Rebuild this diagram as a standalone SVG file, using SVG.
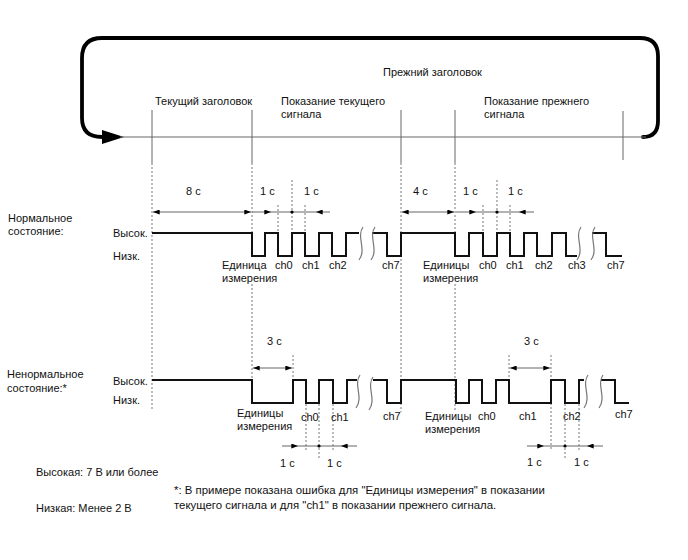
<svg xmlns="http://www.w3.org/2000/svg" xmlns:xlink="http://www.w3.org/1999/xlink" width="688" height="560" viewBox="0 0 688 560">
<style>
text{font-family:"Liberation Sans",Arial,sans-serif;font-size:11px;fill:#111}
.fn{font-size:11.4px}
.wave{fill:none;stroke:#111;stroke-width:2}
.brk{fill:none;stroke:#777;stroke-width:1.2}
.tick{stroke:#666;stroke-width:1;fill:none}
.dash{stroke:#777;stroke-width:1;stroke-dasharray:2 2;fill:none}
.dim{stroke:#666;stroke-width:1;fill:none}
.loop{fill:none;stroke:#000;stroke-width:3.8;stroke-linecap:round;stroke-linejoin:round}
</style>
<defs>
<marker id="ah" viewBox="0 0 8 6" refX="8" refY="3" markerWidth="7" markerHeight="5" markerUnits="userSpaceOnUse" orient="auto-start-reverse"><path d="M0,0 L8,3 L0,6 z" fill="#000"/></marker>
<path id="brk" d="M2,0 C-5,10 6,22 -2,33"/>
</defs>
<rect width="688" height="560" fill="#fff"/>

<g id="loop">
<path class="loop" d="M643,137 Q658,137 658,121 L658,56 Q658,38 640,38 L102,38 Q82,38 82,58 L82,118 Q82,137 102,137 L108,137"/>
<polygon points="102,130 124,137 102,144" fill="#000"/>
<line class="tick" x1="120" y1="137" x2="646" y2="137"/>
</g>

<g id="headers">
<text x="383" y="76">Прежний заголовок</text>
<text x="155" y="105">Текущий заголовок</text>
<text x="281" y="105">Показание текущего</text>
<text x="281" y="118">сигнала</text>
<text x="484" y="105">Показание прежнего</text>
<text x="484" y="118">сигнала</text>
<line class="tick" x1="152" y1="110" x2="152" y2="163"/>
<line class="tick" x1="252" y1="110" x2="252" y2="163"/>
<line class="tick" x1="401" y1="110" x2="401" y2="163"/>
<line class="tick" x1="455" y1="110" x2="455" y2="163"/>
<line class="tick" x1="623" y1="111" x2="623" y2="160"/>
</g>

<g id="guides">
<line class="dash" x1="152" y1="163" x2="152" y2="410"/>
<line class="dash" x1="252" y1="163" x2="252" y2="233"/>
<line class="dash" x1="252" y1="284" x2="252" y2="380"/>
<line class="dash" x1="401" y1="163" x2="401" y2="412"/>
<line class="dash" x1="455" y1="163" x2="455" y2="233"/>
<line class="dash" x1="455" y1="284" x2="455" y2="412"/>
<line class="dash" x1="292" y1="180" x2="292" y2="233"/>
<line class="dash" x1="278" y1="205" x2="278" y2="233"/>
<line class="dash" x1="305" y1="205" x2="305" y2="233"/>
<line class="dash" x1="497" y1="180" x2="497" y2="233"/>
<line class="dash" x1="483" y1="205" x2="483" y2="233"/>
<line class="dash" x1="510" y1="205" x2="510" y2="233"/>
<line class="dash" x1="293" y1="355" x2="293" y2="380"/>
<line class="dash" x1="509" y1="355" x2="509" y2="380"/>
<line class="dash" x1="551" y1="355" x2="551" y2="451"/>
<line class="dash" x1="306" y1="404" x2="306" y2="451"/>
<line class="dash" x1="319" y1="404" x2="319" y2="458"/>
<line class="dash" x1="333" y1="404" x2="333" y2="451"/>
<line class="dash" x1="565" y1="404" x2="565" y2="458"/>
<line class="dash" x1="579" y1="404" x2="579" y2="451"/>
</g>

<g id="normal">
<text x="8" y="222">Нормальное</text>
<text x="8" y="235">состояние:</text>
<text x="113" y="237">Высок.</text>
<text x="113" y="260">Низк.</text>
<polyline class="wave" points="152,233 252,233 252,256 265,256 265,233 278,233 278,256 292,256 292,233 305,233 305,256 319,256 319,233 332,233 332,256 346,256 346,233 359,233"/>
<polyline class="wave" points="372,233 387,233 387,256 401,256 401,233 455,233 455,256 469,256 469,233 483,233 483,256 497,256 497,233 510,233 510,256 524,256 524,233 537,233 537,256 552,256 552,233 566,233 566,256 577,256"/>
<polyline class="wave" points="592,233 606,233 606,256 622,256"/>
<use href="#brk" class="brk" x="361" y="227"/>
<use href="#brk" class="brk" x="373" y="227"/>
<use href="#brk" class="brk" x="579" y="227"/>
<use href="#brk" class="brk" x="593" y="227"/>
<text x="222" y="269">Единица</text>
<text x="222" y="282">измерения</text>
<text x="275" y="269">ch0</text>
<text x="302" y="269">ch1</text>
<text x="329" y="269">ch2</text>
<text x="382" y="269">ch7</text>
<text x="423" y="269">Единицы</text>
<text x="423" y="282">измерения</text>
<text x="479" y="269">ch0</text>
<text x="506" y="269">ch1</text>
<text x="535" y="269">ch2</text>
<text x="568" y="269">ch3</text>
<text x="607" y="269">ch7</text>
</g>

<g id="abnormal">
<text x="7" y="378">Ненормальное</text>
<text x="7" y="392">состояние:*</text>
<text x="113" y="385">Высок.</text>
<text x="113" y="404">Низк.</text>
<polyline class="wave" points="152,380 252,380 252,403 293,403 293,380 306,380 306,403 319,403 319,380 333,380 333,403 347,403 347,380 357,380"/>
<polyline class="wave" points="373,380 387,380 387,403 401,403 401,380 456,380 456,403 469,403 469,380 482,380 482,403 496,403 496,380 509,380 509,403 551,403 551,380 565,380 565,403 579,403 579,380 584,380"/>
<polyline class="wave" points="601,380 615,380 615,403 629,403"/>
<use href="#brk" class="brk" x="358" y="375"/>
<use href="#brk" class="brk" x="371" y="377"/>
<use href="#brk" class="brk" x="586" y="375"/>
<use href="#brk" class="brk" x="601" y="375"/>
<text x="237" y="417">Единицы</text>
<text x="237" y="430">измерения</text>
<text x="301" y="421">ch0</text>
<text x="331" y="421">ch1</text>
<text x="383" y="420">ch7</text>
<text x="425" y="420">Единицы</text>
<text x="425" y="433">измерения</text>
<text x="478" y="420">ch0</text>
<text x="519" y="420">ch1</text>
<text x="563" y="420">ch2</text>
<text x="615" y="418">ch7</text>
</g>

<g id="dimensions">
<line class="dim" x1="153" y1="212" x2="251" y2="212" marker-start="url(#ah)" marker-end="url(#ah)"/>
<text x="186" y="195">8 с</text>
<line class="dim" x1="252" y1="212" x2="271" y2="212" marker-end="url(#ah)"/>
<line class="dim" x1="271" y1="212" x2="316" y2="212"/>
<line class="dim" x1="330" y1="212" x2="316" y2="212" marker-end="url(#ah)"/>
<circle cx="292" cy="212" r="1.6" fill="#000"/>
<text x="260" y="195">1 с</text>
<text x="304" y="195">1 с</text>
<line class="dim" x1="402" y1="212" x2="454" y2="212" marker-start="url(#ah)" marker-end="url(#ah)"/>
<text x="413" y="195">4 с</text>
<line class="dim" x1="456" y1="212" x2="476" y2="212" marker-end="url(#ah)"/>
<line class="dim" x1="476" y1="212" x2="519" y2="212"/>
<line class="dim" x1="534" y1="212" x2="519" y2="212" marker-end="url(#ah)"/>
<circle cx="497" cy="212" r="1.6" fill="#000"/>
<text x="463" y="195">1 с</text>
<text x="508" y="195">1 с</text>
<line class="dim" x1="253" y1="368" x2="292" y2="368" marker-start="url(#ah)" marker-end="url(#ah)"/>
<text x="267" y="345">3 с</text>
<line class="dim" x1="510" y1="368" x2="550" y2="368" marker-start="url(#ah)" marker-end="url(#ah)"/>
<text x="524" y="345">3 с</text>
<line class="dim" x1="282" y1="446" x2="298" y2="446" marker-end="url(#ah)"/>
<line class="dim" x1="298" y1="446" x2="341" y2="446"/>
<line class="dim" x1="357" y1="446" x2="341" y2="446" marker-end="url(#ah)"/>
<circle cx="319" cy="446" r="1.6" fill="#000"/>
<text x="280" y="467">1 с</text>
<text x="327" y="467">1 с</text>
<line class="dim" x1="527" y1="446" x2="544" y2="446" marker-end="url(#ah)"/>
<line class="dim" x1="544" y1="446" x2="587" y2="446"/>
<line class="dim" x1="603" y1="446" x2="587" y2="446" marker-end="url(#ah)"/>
<circle cx="565" cy="446" r="1.6" fill="#000"/>
<text x="527" y="466">1 с</text>
<text x="574" y="466">1 с</text>
</g>

<g id="notes">
<text x="36" y="476">Высокая: 7 В или более</text>
<text x="36" y="512">Низкая: Менее 2 В</text>
<text class="fn" x="174" y="494">*: В примере показана ошибка для "Единицы измерения" в показании</text>
<text class="fn" x="174" y="509">текущего сигнала и для "ch1" в показании прежнего сигнала.</text>
</g>
</svg>
